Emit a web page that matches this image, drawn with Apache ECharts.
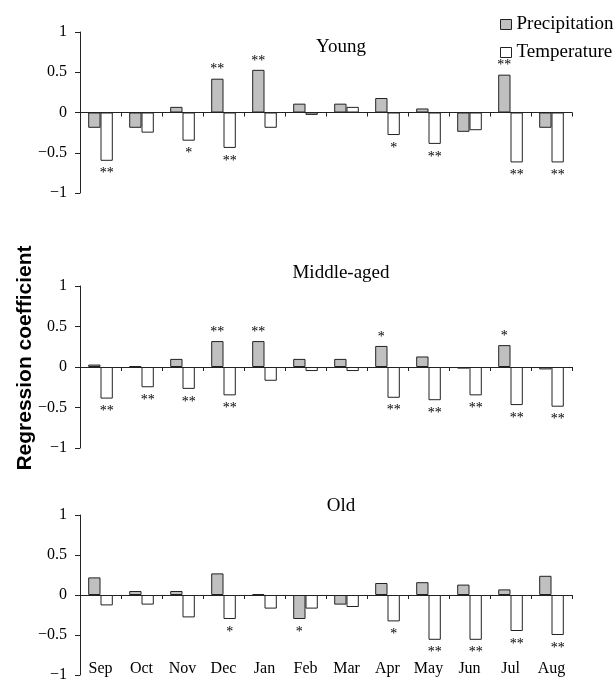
<!DOCTYPE html>
<html>
<head>
<meta charset="utf-8">
<title>Regression coefficient</title>
<script src="https://cdn.jsdelivr.net/npm/echarts@6/dist/echarts.min.js"></script>
<style>
  html, body { margin: 0; padding: 0; background: #fff; }
  #chart { width: 616px; height: 680px; }
</style>
</head>
<body>
<div id="chart"></div>
<script>
// months, Sep .. Aug
const months = ['Sep', 'Oct', 'Nov', 'Dec', 'Jan', 'Feb', 'Mar', 'Apr', 'May', 'Jun', 'Jul', 'Aug'];
const yTicks = [-1, -0.5, 0, 0.5, 1];

// Young
const youngPrecip = [-0.19, -0.19, 0.07, 0.42, 0.53, 0.11, 0.11, 0.18, 0.05, -0.24, 0.47, -0.19];
const youngTemp   = [-0.60, -0.25, -0.35, -0.44, -0.19, -0.03, 0.07, -0.28, -0.39, -0.22, -0.62, -0.62];
const youngPrecipSig = ['', '', '', '**', '**', '', '', '', '', '', '**', ''];
const youngTempSig   = ['**', '', '*', '**', '', '', '', '*', '**', '', '**', '**'];

// Middle-aged
const middlePrecip = [0.03, 0.01, 0.10, 0.32, 0.32, 0.10, 0.10, 0.26, 0.13, -0.02, 0.27, -0.03];
const middleTemp   = [-0.39, -0.25, -0.27, -0.35, -0.17, -0.05, -0.05, -0.38, -0.41, -0.35, -0.47, -0.49];
const middlePrecipSig = ['', '', '', '**', '**', '', '', '*', '', '', '*', ''];
const middleTempSig   = ['**', '**', '**', '**', '', '', '', '**', '**', '**', '**', '**'];

// Old
const oldPrecip = [0.22, 0.05, 0.05, 0.27, 0.01, -0.30, -0.12, 0.15, 0.16, 0.13, 0.07, 0.24];
const oldTemp   = [-0.13, -0.12, -0.28, -0.30, -0.17, -0.17, -0.15, -0.33, -0.56, -0.56, -0.45, -0.50];
const oldPrecipSig = ['', '', '', '', '', '*', '', '', '', '', '', ''];
const oldTempSig   = ['', '', '', '*', '', '', '', '*', '**', '**', '**', '**'];

const panels = [
  { name: 'Young',       top: 32,  height: 161, titleY: 47,  precip: youngPrecip,  temp: youngTemp,  pSig: youngPrecipSig,  tSig: youngTempSig },
  { name: 'Middle-aged', top: 286, height: 162, titleY: 273, precip: middlePrecip, temp: middleTemp, pSig: middlePrecipSig, tSig: middleTempSig },
  { name: 'Old',         top: 515, height: 160, titleY: 506, precip: oldPrecip,    temp: oldTemp,    pSig: oldPrecipSig,    tSig: oldTempSig }
];

const serif = '"Liberation Serif", "Times New Roman", serif';
const lineColor = '#222';
const grey = '#c0c0c0';

function withStars(values, sigs) {
  return values.map(function (v, i) {
    const s = sigs[i];
    return {
      value: v,
      label: {
        show: s !== '',
        formatter: s,
        position: v >= 0 ? 'top' : 'bottom',
        distance: v >= 0 ? 2 : 6
      }
    };
  });
}

const chart = echarts.init(document.getElementById('chart'));

const option = {
  animation: false,
  backgroundColor: '#fff',
  textStyle: { fontFamily: serif, color: '#000' },
  legend: {
    orient: 'vertical',
    left: 500,
    top: 15,
    padding: 0,
    itemWidth: 11,
    itemHeight: 10,
    itemGap: 9,
    icon: 'rect',
    textStyle: { fontFamily: serif, fontSize: 19, color: '#000' },
    data: [
      { name: 'Precipitation', itemStyle: { color: grey, borderColor: lineColor, borderWidth: 1 } },
      { name: 'Temperature', itemStyle: { color: '#fff', borderColor: lineColor, borderWidth: 1 } }
    ]
  },
  grid: panels.map(function (p) {
    return { left: 80, width: 492, top: p.top, height: p.height, outerBoundsMode: 'none', containLabel: false };
  }),
  xAxis: panels.map(function (p, i) {
    return {
      type: 'category',
      gridIndex: i,
      data: months,
      axisLine: { onZero: true, lineStyle: { color: lineColor, width: 1 } },
      axisTick: { show: true, length: 4, interval: 0, lineStyle: { color: lineColor } },
      axisLabel: {
        show: i === 2,
        interval: 0,
        margin: -14,
        fontFamily: serif,
        fontSize: 16,
        color: '#000'
      },
      splitLine: { show: false }
    };
  }),
  yAxis: panels.map(function (p, i) {
    return {
      type: 'value',
      gridIndex: i,
      min: yTicks[0],
      max: yTicks[yTicks.length - 1],
      interval: 0.5,
      axisLine: { show: true, lineStyle: { color: lineColor, width: 1 } },
      axisTick: { show: true, length: 5, lineStyle: { color: lineColor } },
      axisLabel: {
        margin: 13,
        fontFamily: serif,
        fontSize: 16,
        color: '#000',
        formatter: function (v) {
          return v < 0 ? '\u2212' + String(-v) : String(v);
        }
      },
      splitLine: { show: false }
    };
  }),
  graphic: panels.map(function (p) {
    return {
      type: 'text',
      x: 341,
      y: p.titleY,
      style: {
        text: p.name,
        font: '19px ' + serif,
        fill: '#000',
        textAlign: 'center',
        textVerticalAlign: 'middle'
      }
    };
  }).concat([{
    type: 'text',
    x: 25,
    y: 358,
    rotation: Math.PI / 2,
    style: {
      text: 'Regression coefficient',
      font: 'bold 21px "Liberation Sans", Arial, sans-serif',
      fill: '#000',
      textAlign: 'center',
      textVerticalAlign: 'middle'
    }
  }]),
  series: []
};

panels.forEach(function (p, i) {
  const labelStyle = { fontFamily: serif, fontSize: 14, color: '#000' };
  option.series.push({
    name: 'Precipitation',
    type: 'bar',
    xAxisIndex: i,
    yAxisIndex: i,
    barGap: '0%',
    barCategoryGap: '40%',
    itemStyle: { color: grey, borderColor: lineColor, borderWidth: 1 },
    label: labelStyle,
    data: withStars(p.precip, p.pSig)
  });
  option.series.push({
    name: 'Temperature',
    type: 'bar',
    xAxisIndex: i,
    yAxisIndex: i,
    barGap: '0%',
    barCategoryGap: '40%',
    itemStyle: { color: '#fff', borderColor: lineColor, borderWidth: 1 },
    label: labelStyle,
    data: withStars(p.temp, p.tSig)
  });
});

chart.setOption(option);
</script>
</body>
</html>
